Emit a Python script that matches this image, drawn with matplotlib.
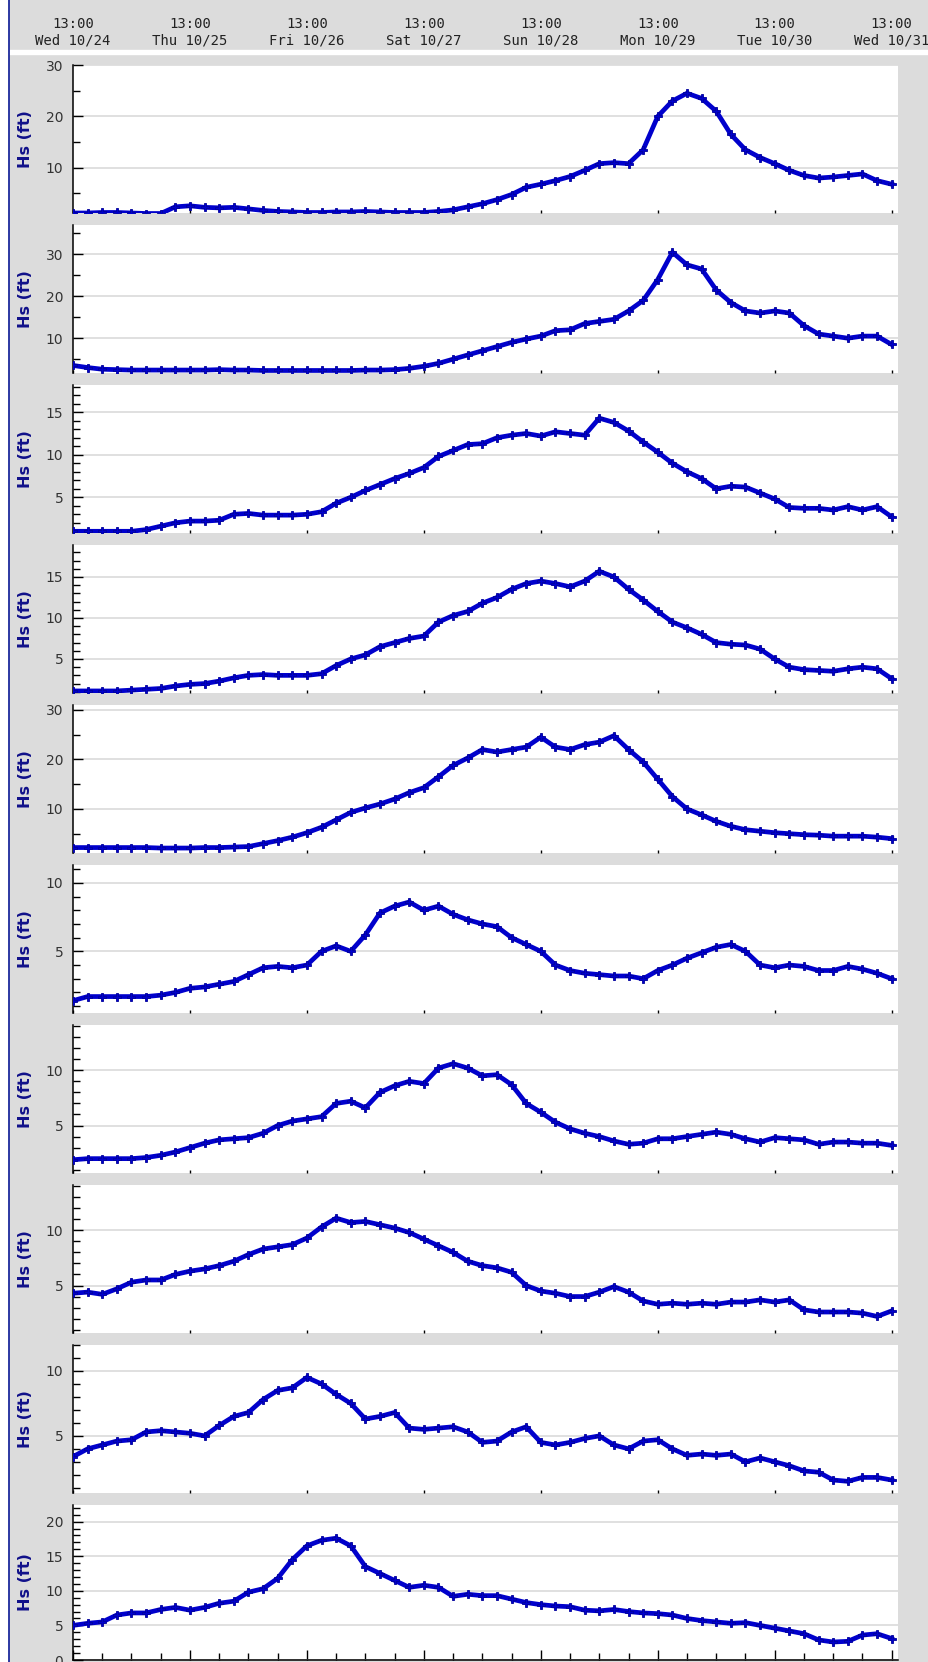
import numpy as np
import pandas as pd
import matplotlib
matplotlib.use('Agg')
import matplotlib.pyplot as plt
from matplotlib.patches import Rectangle
from matplotlib.lines import Line2D
from matplotlib.ticker import MultipleLocator
import matplotlib.dates as mdates

# 3-hourly readings, Wed 10/24 13:00 -> Wed 10/31 13:00
times = pd.date_range('2018-10-24 13:00', periods=57, freq='3h')
day_ticks = pd.date_range('2018-10-24 13:00', periods=8, freq='D')
day_labels = ['Wed 10/24', 'Thu 10/25', 'Fri 10/26', 'Sat 10/27',
              'Sun 10/28', 'Mon 10/29', 'Tue 10/30', 'Wed 10/31']
x_start = pd.Timestamp('2018-10-24 13:00')
x_end = x_start + pd.Timedelta(hours=169.3)

hs1 = [1.2, 1.2, 1.3, 1.3, 1.2, 1.1, 1.1, 2.4, 2.6, 2.3, 2.2, 2.3, 2.0, 1.7, 1.5, 1.4, 1.3, 1.3, 1.4, 1.4,
       1.5, 1.4, 1.3, 1.3, 1.3, 1.5, 1.8, 2.4, 3.0, 3.8, 4.8, 6.2, 6.8, 7.5, 8.3, 9.5, 10.8, 11.0, 10.8, 13.5,
       20.0, 23.0, 24.5, 23.5, 21.0, 16.5, 13.5, 12.0, 10.8, 9.5, 8.5, 8.0, 8.2, 8.5, 8.8, 7.5, 6.8]
hs2 = [3.5, 3.0, 2.6, 2.5, 2.4, 2.4, 2.4, 2.4, 2.4, 2.4, 2.5, 2.4, 2.4, 2.3, 2.3, 2.3, 2.3, 2.3, 2.3, 2.3,
       2.4, 2.4, 2.5, 2.8, 3.3, 4.0, 5.0, 6.0, 7.0, 8.0, 9.0, 9.8, 10.5, 11.8, 12.0, 13.5, 14.0, 14.5, 16.5, 19.0,
       24.0, 30.5, 27.5, 26.5, 21.5, 18.5, 16.5, 16.0, 16.5, 16.0, 13.0, 11.0, 10.5, 10.0, 10.5, 10.5, 8.5]
hs3 = [1.0, 1.0, 1.0, 1.0, 1.0, 1.2, 1.6, 2.0, 2.2, 2.2, 2.3, 3.0, 3.1, 2.9, 2.9, 2.9, 3.0, 3.3, 4.3, 5.0,
       5.8, 6.5, 7.2, 7.8, 8.5, 9.8, 10.5, 11.2, 11.3, 12.0, 12.3, 12.5, 12.2, 12.7, 12.5, 12.3, 14.3, 13.8, 12.8, 11.5,
       10.3, 9.0, 8.0, 7.2, 6.0, 6.3, 6.2, 5.5, 4.8, 3.8, 3.7, 3.7, 3.5, 3.9, 3.5, 3.9, 2.7]
hs4 = [1.1, 1.1, 1.1, 1.1, 1.2, 1.3, 1.4, 1.7, 1.9, 2.0, 2.3, 2.7, 3.0, 3.1, 3.0, 3.0, 3.0, 3.2, 4.2, 5.0,
       5.5, 6.5, 7.0, 7.5, 7.8, 9.5, 10.3, 10.8, 11.8, 12.5, 13.5, 14.2, 14.5, 14.2, 13.8, 14.5, 15.7, 15.0, 13.5, 12.2,
       10.8, 9.5, 8.8, 8.0, 7.0, 6.8, 6.7, 6.2, 5.0, 4.0, 3.7, 3.6, 3.5, 3.8, 4.0, 3.8, 2.6]
hs5 = [2.2, 2.2, 2.2, 2.2, 2.2, 2.2, 2.1, 2.1, 2.1, 2.2, 2.2, 2.3, 2.4, 3.0, 3.6, 4.3, 5.2, 6.3, 7.8, 9.3,
       10.2, 11.0, 12.0, 13.3, 14.3, 16.5, 18.8, 20.3, 22.0, 21.5, 22.0, 22.5, 24.5, 22.5, 22.0, 23.0, 23.5, 24.8, 22.0, 19.5,
       16.0, 12.5, 10.0, 8.8, 7.5, 6.5, 5.8, 5.5, 5.2, 5.0, 4.8, 4.7, 4.5, 4.5, 4.5, 4.3, 4.0]
hs6 = [1.4, 1.7, 1.7, 1.7, 1.7, 1.7, 1.8, 2.0, 2.3, 2.4, 2.6, 2.8, 3.3, 3.8, 3.9, 3.8, 4.0, 5.0, 5.4, 5.0,
       6.2, 7.8, 8.3, 8.6, 8.0, 8.3, 7.7, 7.3, 7.0, 6.8, 6.0, 5.5, 5.0, 4.0, 3.6, 3.4, 3.3, 3.2, 3.2, 3.0,
       3.6, 4.0, 4.5, 4.9, 5.3, 5.5, 5.0, 4.0, 3.8, 4.0, 3.9, 3.6, 3.6, 3.9, 3.7, 3.4, 3.0]
hs7 = [1.9, 2.0, 2.0, 2.0, 2.0, 2.1, 2.3, 2.6, 3.0, 3.4, 3.7, 3.8, 3.9, 4.3, 5.0, 5.4, 5.6, 5.8, 7.0, 7.2,
       6.6, 8.0, 8.6, 9.0, 8.8, 10.2, 10.6, 10.2, 9.5, 9.6, 8.7, 7.0, 6.2, 5.3, 4.7, 4.3, 4.0, 3.6, 3.3, 3.4,
       3.8, 3.8, 4.0, 4.2, 4.4, 4.2, 3.8, 3.5, 3.9, 3.8, 3.7, 3.3, 3.5, 3.5, 3.4, 3.4, 3.2]
hs8 = [4.3, 4.4, 4.2, 4.7, 5.3, 5.5, 5.5, 6.0, 6.3, 6.5, 6.8, 7.2, 7.8, 8.3, 8.5, 8.7, 9.3, 10.3, 11.1, 10.7,
       10.8, 10.5, 10.2, 9.8, 9.2, 8.6, 8.0, 7.2, 6.8, 6.6, 6.2, 5.0, 4.5, 4.3, 4.0, 4.0, 4.4, 4.9, 4.4, 3.6,
       3.3, 3.4, 3.3, 3.4, 3.3, 3.5, 3.5, 3.7, 3.5, 3.7, 2.8, 2.6, 2.6, 2.6, 2.5, 2.2, 2.7]
hs9 = [3.4, 4.0, 4.3, 4.6, 4.7, 5.3, 5.4, 5.3, 5.2, 5.0, 5.8, 6.5, 6.8, 7.8, 8.5, 8.7, 9.5, 9.0, 8.2, 7.5,
       6.3, 6.5, 6.8, 5.6, 5.5, 5.6, 5.7, 5.3, 4.5, 4.6, 5.3, 5.7, 4.5, 4.3, 4.5, 4.8, 5.0, 4.3, 4.0, 4.6,
       4.7, 4.0, 3.5, 3.6, 3.5, 3.6, 3.0, 3.3, 3.0, 2.7, 2.3, 2.2, 1.6, 1.5, 1.8, 1.8, 1.6]
hs10 = [5.0, 5.3, 5.5, 6.5, 6.8, 6.8, 7.3, 7.6, 7.2, 7.6, 8.2, 8.5, 9.8, 10.3, 11.8, 14.5, 16.5, 17.3, 17.6, 16.5,
        13.5, 12.5, 11.5, 10.5, 10.8, 10.5, 9.2, 9.5, 9.3, 9.3, 8.8, 8.3, 8.0, 7.8, 7.7, 7.2, 7.1, 7.3, 7.0, 6.8,
        6.7, 6.5, 6.0, 5.7, 5.5, 5.3, 5.4, 5.0, 4.6, 4.2, 3.8, 2.9, 2.6, 2.7, 3.6, 3.8, 3.1]

panels = [hs1, hs2, hs3, hs4, hs5, hs6, hs7, hs8, hs9, hs10]
ylims = [(1.2, 30), (1.7, 37), (0.8, 18.2), (0.85, 18.9), (1.1, 31),
         (0.5, 11.3), (0.7, 14.1), (0.7, 14.1), (0.6, 12.0), (0, 22.4)]
major_step = [10, 10, 5, 5, 10, 5, 5, 5, 5, 5]
minor_step = [5, 5, 1, 1, 5, 1, 1, 1, 1, 1]

W, H = 929, 1662
grey = '#dcdcdc'
fig = plt.figure(figsize=(W / 100, H / 100), dpi=100, facecolor=grey)

# white margin + strip under header, blue border line
fig.patches.append(Rectangle((0, 0), 8 / W, 1, transform=fig.transFigure, color='white', zorder=0))
fig.patches.append(Rectangle((9 / W, 1 - 54 / H), 1, 4 / H, transform=fig.transFigure, color='white', zorder=0))
fig.lines.append(Line2D([8.5 / W, 8.5 / W], [0, 1], transform=fig.transFigure, color='#1c2a9c', lw=1.3))

# header with time labels
hax = fig.add_axes([73 / W, 1 - 50 / H, 825 / W, 50 / H])
hax.axis('off')
hax.set_xlim(x_start, x_end)
hax.set_ylim(50, 0)
for t, lab in zip(day_ticks, day_labels):
    hax.text(t, 24, '13:00', ha='center', va='center', family='DejaVu Sans Mono',
             fontsize=10, color='#222222', clip_on=False)
    hax.text(t, 41, lab, ha='center', va='center', family='DejaVu Sans Mono',
             fontsize=10, color='#222222', clip_on=False)

for i, vals in enumerate(panels):
    top = 65 + 160 * i
    bot = top + 148 if i < 9 else 1660
    ax = fig.add_axes([73 / W, 1 - bot / H, 825 / W, (bot - top) / H])
    ax.plot(times, vals, color='#0000cc', lw=3.4, marker='P', ms=5.5,
            mec='#00009a', mew=0.6, mfc='#0000cc', zorder=3)
    ax.set_xlim(x_start, x_end)
    ax.set_ylim(*ylims[i])
    ax.yaxis.set_major_locator(MultipleLocator(major_step[i]))
    ax.yaxis.set_minor_locator(MultipleLocator(minor_step[i]))
    ax.grid(axis='y', which='major', color='#dddddd', lw=1.3)
    ax.set_axisbelow(True)
    for s in ['top', 'right']:
        ax.spines[s].set_visible(False)
    ax.spines['left'].set_linewidth(1.1)
    ax.tick_params(axis='y', which='major', direction='in', length=7, width=1,
                   labelsize=10, labelcolor='#333333', pad=7)
    ax.tick_params(axis='y', which='minor', direction='in', length=5, width=1)
    ax.set_ylabel('Hs (ft)', color='#10108a', fontweight='bold', fontsize=11.5)
    ax.yaxis.set_label_coords(-40 / 825, 0.5)
    ax.set_xticks(day_ticks)
    ax.xaxis.set_major_formatter(plt.NullFormatter())
    if i < 9:
        ax.spines['bottom'].set_visible(False)
        ax.tick_params(axis='x', which='major', direction='in', length=2, width=1)
    else:
        ax.spines['bottom'].set_linewidth(1.1)
        ax.xaxis.set_minor_locator(mdates.HourLocator(byhour=[1, 7, 19]))
        ax.tick_params(axis='x', which='major', direction='in', length=7, width=1)
        ax.tick_params(axis='x', which='minor', direction='in', length=5, width=1)

fig.savefig('out.png', dpi=100, facecolor=grey)
